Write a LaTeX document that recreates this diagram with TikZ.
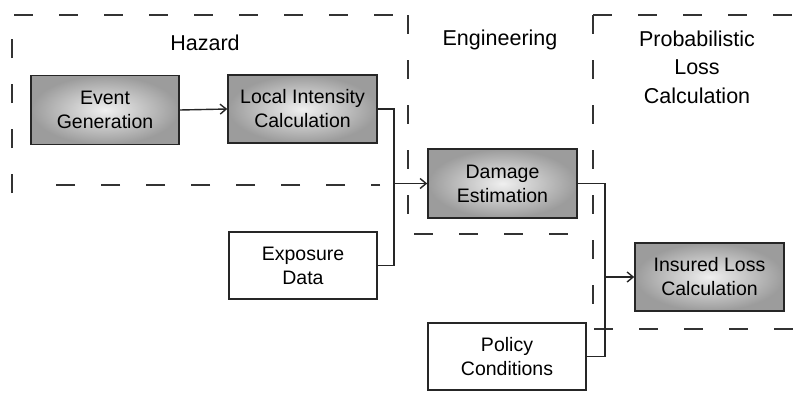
\documentclass[tikz,border=0pt]{standalone}
\usepackage{fontspec}
\setmainfont{Liberation Sans}
\usetikzlibrary{arrows.meta}

\begin{document}
\begin{tikzpicture}[x=1pt,y=-1pt,
  region/.style={draw=black!80, line width=2pt, dash pattern=on 19pt off 26pt},
  boxbase/.style={draw=black!85, line width=1.6pt, align=center, inner sep=0pt,
    font=\fontsize{19.5}{24}\selectfont},
  shadedbox/.style={boxbase, inner color=gray!12, outer color=gray!78},
  plainbox/.style={boxbase, fill=white},
  regionlabel/.style={align=center, font=\fontsize{21.5}{28.5}\selectfont},
  link/.style={draw=black!85, line width=1.4pt},
  arrowlink/.style={link, -{Straight Barb[length=6pt,width=10pt,line width=1.4pt]}}]

\useasboundingbox (0,0) rectangle (795,392);
\fill[white] (0,0) rectangle (795,392);

% dashed stage regions
\begin{scope}
\clip (0,0) rectangle (795,392);
\draw[region] (12,193) -- (12,15) -- (407,15);
\draw[region, dash phase=10pt] (380,185) -- (35,185);
\draw[region] (408,15) -- (408,234) -- (593,234);
\draw[region] (593,15) -- (820,15);
\draw[region] (593,15) -- (593,329) -- (820,329);
\end{scope}

% stage titles
\node[regionlabel] (lhaz) at (205,43) {Hazard};
\node[regionlabel] (leng) at (500,40) {Engineering};
\node[regionlabel] (lprob) at (697,67) {Probabilistic\\Loss\\Calculation};

% process boxes
\node[shadedbox, minimum width=148pt, minimum height=69pt] (ev) at (105,110) {Event\\Generation};
\node[shadedbox, minimum width=149pt, minimum height=68pt] (li) at (302.5,109) {Local Intensity\\Calculation};
\node[shadedbox, minimum width=149pt, minimum height=69pt] (dm) at (502.5,183.5) {Damage\\Estimation};
\node[plainbox, minimum width=148pt, minimum height=67pt] (ex) at (303,265.5) {Exposure\\Data};
\node[plainbox, minimum width=158pt, minimum height=67pt] (po) at (507,356.5) {Policy\\Conditions};
\node[shadedbox, minimum width=149pt, minimum height=68pt] (in) at (709.5,277) {Insured Loss\\Calculation};

% junction points
\coordinate (j1) at (394,183.5);
\coordinate (j2) at (605,277);

% connectors
\draw[arrowlink] (ev.east) -- (li.west);
\draw[link] (li.east) -| (j1);
\draw[link] (ex.east) -| (j1);
\draw[arrowlink] (j1) -- (dm.west);
\draw[link] (dm.east) -| (j2);
\draw[link] (po.east) -| (j2);
\draw[arrowlink] (j2) -- (in.west);
\end{tikzpicture}
\end{document}
